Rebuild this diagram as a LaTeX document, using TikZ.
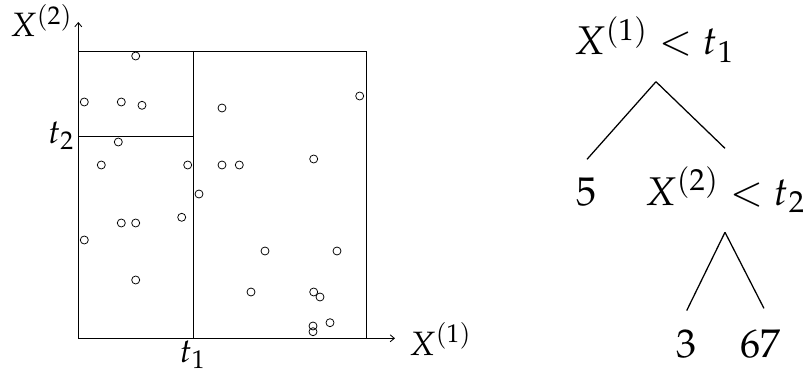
\documentclass[tikz,border=0pt]{standalone}
\usepackage{amsmath}
\usepackage{mathpazo}
\usepackage{tikz}
\usetikzlibrary{arrows.meta,positioning,calc}

\begin{document}
\begin{tikzpicture}[x=0.025cm, y=-0.025cm,
    axis/.style={line width=0.6pt, -{Straight Barb[length=3pt, width=5pt]}},
    split/.style={line width=0.7pt},
    obs/.style={line width=0.55pt},
    axlabel/.style={font=\fontsize{24}{29}\selectfont, inner sep=0pt},
    leaf/.style={font=\fontsize{28.5}{34}\selectfont, inner sep=0pt, anchor=base},
    edge/.style={line width=0.9pt}
]
    \useasboundingbox (0,0) rectangle (804,374);

    \coordinate (origin) at (78.3,338.3);
    \coordinate (xend) at (395,338.3);
    \coordinate (yend) at (78.3,22);
    \draw[axis] (origin) -- (xend);
    \draw[axis] (origin) -- (yend);

    \draw[split] (78.3,51) rectangle (366.3,338.3);
    \draw[split] (193.3,51) -- (193.3,338.3);
    \draw[split] (78.3,136.7) -- (193.3,136.7);

    \foreach \px/\py in {135.7/56, 84.3/102, 121.3/102, 142/105.3, 222/108, 359.7/96,
        118.3/142, 101.3/165, 187.7/165, 222/165, 239.3/165, 313.7/159, 199/194,
        181.7/217.3, 121.3/223, 135.7/223, 84.3/240, 265/251, 337/251, 135.7/280,
        251/292, 313.7/292, 320/297, 330/322.7, 313/326, 313/331.7}
        \draw[obs] (\px,\py) circle[radius=2.85pt];

    \node[axlabel, anchor=base west] (lblx2) at (10,36.7) {$X^{(2)}$};
    \node[axlabel, anchor=base west] (lblt2) at (48,143.3) {$t_2$};
    \node[axlabel, anchor=base] (lblt1) at (192.5,362.5) {$t_1$};
    \node[axlabel, anchor=base west] (lblx1) at (409,355) {$X^{(1)}$};

    \node[leaf] (root) at (654,55) {$X^{(1)} < t_1$};
    \node[leaf] (five) at (587,205) {$5$};
    \node[leaf] (inner) at (725,205) {$X^{(2)} < t_2$};
    \node[leaf] (three) at (686.7,357) {$3$};
    \node[leaf] (sixtyseven) at (760.7,357) {$67$};

    \draw[edge] ([xshift=1.4pt, yshift=-19pt]root.base) -- ([yshift=32.5pt]five.base);
    \draw[edge] ([xshift=1.4pt, yshift=-19pt]root.base) -- ([yshift=40.3pt]inner.base);
    \draw[edge] ([yshift=-19.4pt]inner.base) -- ([yshift=33pt]three.base);
    \draw[edge] ([yshift=-19.4pt]inner.base) -- ([xshift=2.3pt, yshift=34.6pt]sixtyseven.base);
\end{tikzpicture}
\end{document}
